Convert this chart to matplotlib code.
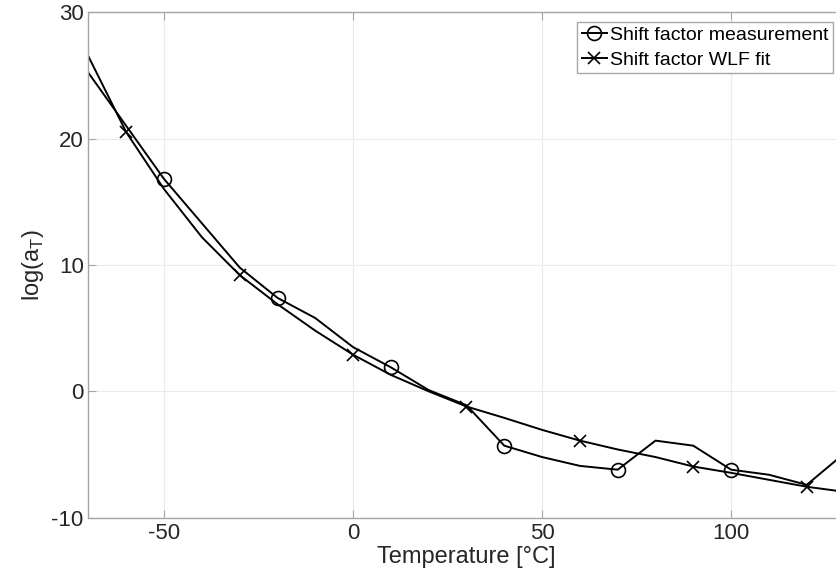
import matplotlib
matplotlib.use("Agg")
import matplotlib.pyplot as plt

plt.rcParams['font.family'] = ['Liberation Sans', 'DejaVu Sans']
plt.rcParams['mathtext.fontset'] = 'custom'
plt.rcParams['mathtext.rm'] = 'Liberation Sans'
plt.rcParams['axes.unicode_minus'] = False

# Temperature steps [°C]
temp = [-70, -60, -50, -40, -30, -20, -10, 0, 10, 20, 30,
        40, 50, 60, 70, 80, 90, 100, 110, 120, 130]

# measured shift factor log(aT)
meas = [25.2, 21.0, 16.8, 13.3, 9.8, 7.4, 5.8, 3.5, 1.9, 0.1, -1.1,
        -4.3, -5.2, -5.9, -6.2, -3.9, -4.3, -6.2, -6.6, -7.4, -4.9]

# WLF fit
wlf = [26.5, 20.5, 16.0, 12.2, 9.2, 6.9, 4.8, 2.9, 1.3, 0.0, -1.2,
       -2.1, -3.05, -3.9, -4.6, -5.2, -5.95, -6.45, -7.0, -7.55, -7.95]

fig = plt.figure(figsize=(8.37, 5.87), dpi=100)
# axes run past the right edge of the figure, like the cropped original
ax = fig.add_axes([88.5 / 837, 1 - 517.7 / 587, 756 / 837, 505.4 / 587])

ax.plot(temp, meas, color='black', lw=1.4, marker='o', ms=10, mfc='none',
        mew=1.2, markevery=(2, 3), label='Shift factor measurement')
ax.plot(temp, wlf, color='black', lw=1.4, marker='x', ms=8,
        mew=1.2, markevery=(1, 3), label='Shift factor WLF fit')

ax.set_xlim(-70, 130)
ax.set_ylim(-10, 30)
ax.set_xticks([-50, 0, 50, 100])
ax.set_yticks([-10, 0, 10, 20, 30])
ax.grid(True, color='#ebebeb', lw=0.8)
ax.set_axisbelow(True)

for s in ax.spines.values():
    s.set_color('#a6a6a6')
    s.set_linewidth(1.0)
ax.tick_params(direction='in', top=True, right=True, length=6,
               color='#a6a6a6', labelsize=16, labelcolor='#262626')

ax.set_xlabel('Temperature [°C]', fontsize=17, color='#262626', labelpad=2)
ax.set_ylabel(r'log(a$_\mathrm{T}$)', fontsize=17, color='#262626', labelpad=4)

leg = ax.legend(loc='upper left', bbox_to_anchor=(577 / 837, 1 - 21.7 / 587),
                bbox_transform=fig.transFigure, borderaxespad=0,
                fancybox=False, edgecolor='#a6a6a6', framealpha=1,
                fontsize=14, handlelength=1.3, handletextpad=0.15,
                borderpad=0.25, labelspacing=0.35)
leg.get_frame().set_linewidth(1.0)

fig.savefig('out.png', dpi=100)
